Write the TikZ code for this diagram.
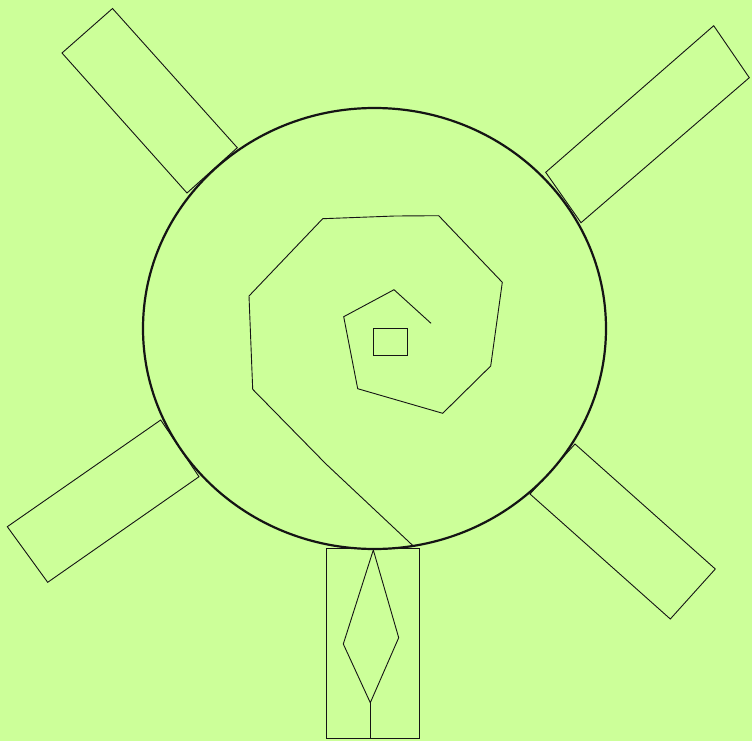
\documentclass[tikz,border=0pt]{standalone}
\usetikzlibrary{shapes.geometric}
\definecolor{bg}{RGB}{204,255,153}
\definecolor{ink}{RGB}{20,20,20}
\begin{document}
\begin{tikzpicture}[x=1pt,y=-1pt,
  thin line/.style={draw=ink,line width=0.9pt,line join=miter},
  rim/.style={draw=ink,line width=2.2pt}]
\fill[bg] (0,0) rectangle (752,741);
\useasboundingbox (0,0) rectangle (752,741);
% arms
\draw[thin line] (112.5,8.5) -- (62,53) -- (187,193) -- (237.3,147.7) -- cycle;
\draw[thin line] (713.7,25.7) -- (749.3,77.7) -- (581,222.7) -- (545.7,172.3) -- cycle;
\draw[thin line] (160.7,420) -- (7.3,526.7) -- (47.7,582.3) -- (199,476.7) -- cycle;
\draw[thin line] (575,444) -- (715.3,569) -- (670.3,619) -- (530,494) -- cycle;
% body circle
\node[rim,ellipse,minimum width=463pt,minimum height=441pt,inner sep=0pt,fill=bg] (body) at (374.5,328.5) {};
% stem
\draw[thin line] (326.3,548.7) rectangle (419.3,738.7);
\coordinate (dt) at (373.3,550);
\coordinate (dr) at (398.7,637.7);
\coordinate (db) at (370.3,702.7);
\coordinate (dl) at (343.3,644);
\coordinate (sb) at (370.3,738.7);
\draw[thin line] (dt) -- (dr) -- (db) -- (dl) -- cycle;
\draw[thin line] (db) -- (sb);
% spiral
\draw[thin line] (431,323.3) -- (394,289.7) -- (343.7,316.7) -- (357.7,388.7)
  -- (442.7,413.3) -- (490.7,366) -- (502.3,282.3) -- (438.7,215.7)
  -- (395,216) -- (322.7,218.7) -- (249,296) -- (252.7,389.3)
  -- (326,464) -- (413.3,546);
% center square
\draw[thin line] (373.7,328.3) rectangle (407,355.7);
\end{tikzpicture}
\end{document}
